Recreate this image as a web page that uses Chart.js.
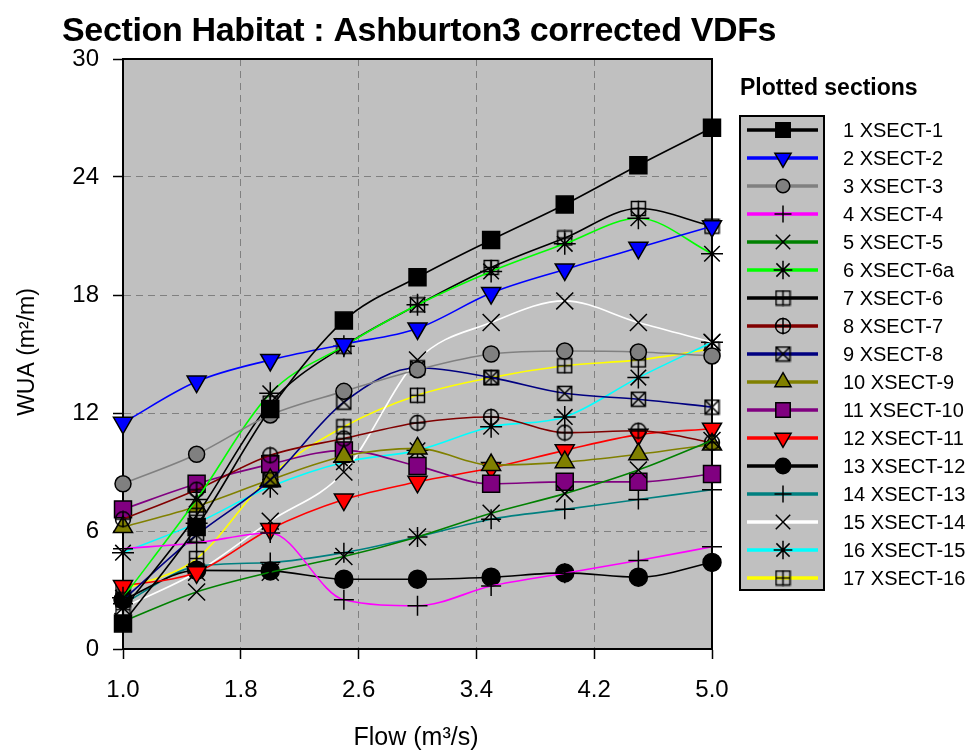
<!DOCTYPE html>
<html>
<head>
<meta charset="utf-8">
<script src="https://cdn.jsdelivr.net/npm/chart.js@4.4.1/dist/chart.umd.min.js"></script>
<style>
  html, body { margin: 0; background: #fff; }
</style>
</head>
<body>
<canvas id="habitatChart" width="974" height="753"></canvas>
<script>
// flows (m3/s) and WUA per section
const flows = [1.0, 1.5, 2.0, 2.5, 3.0, 3.5, 4.0, 4.5, 5.0];
const flowTicks = [1.0, 1.8, 2.6, 3.4, 4.2, 5.0];
const wuaTicks = [0, 6, 12, 18, 24, 30];

const sectionNames = [
    '1 XSECT-1', '2 XSECT-2', '3 XSECT-3', '4 XSECT-4', '5 XSECT-5', '6 XSECT-6a',
    '7 XSECT-6', '8 XSECT-7', '9 XSECT-8', '10 XSECT-9', '11 XSECT-10', '12 XSECT-11',
    '13 XSECT-12', '14 XSECT-13', '15 XSECT-14', '16 XSECT-15', '17 XSECT-16'
];

const xsect1   = [1.3, 6.2, 12.2, 16.7, 18.9, 20.8, 22.6, 24.6, 26.5];
const xsect2   = [11.5, 13.6, 14.7, 15.5, 16.3, 18.1, 19.3, 20.4, 21.5];
const xsect3   = [8.4, 9.9, 11.9, 13.1, 14.2, 15.0, 15.15, 15.1, 14.9];
const xsect4   = [5.1, 5.4, 5.9, 2.5, 2.2, 3.2, 3.85, 4.5, 5.2];
const xsect5   = [1.4, 2.9, 3.9, 4.7, 5.7, 6.9, 7.9, 9.1, 10.6];
const xsect6a  = [2.6, 7.6, 13.0, 15.4, 17.5, 19.2, 20.6, 21.9, 20.1];
const xsect6   = [2.0, 6.8, 12.5, 15.4, 17.5, 19.4, 20.9, 22.4, 21.5];
const xsect7   = [6.6, 8.1, 9.85, 10.7, 11.5, 11.8, 11.0, 11.1, 10.5];
const xsect8   = [2.5, 5.8, 8.6, 12.55, 14.3, 13.8, 13.0, 12.7, 12.3];
const xsect9   = [6.2, 7.25, 8.6, 9.8, 10.2, 9.35, 9.5, 9.9, 10.4];
const xsect10  = [7.1, 8.4, 9.4, 10.1, 9.3, 8.4, 8.5, 8.5, 8.9];
const xsect11  = [3.2, 3.9, 6.1, 7.6, 8.5, 9.2, 10.1, 10.9, 11.2];
const xsect12  = [2.5, 4.0, 3.97, 3.55, 3.55, 3.65, 3.87, 3.65, 4.4];
const xsect13  = [2.3, 4.2, 4.4, 4.9, 5.7, 6.6, 7.1, 7.6, 8.1];
const xsect14  = [2.1, 3.9, 6.5, 9.0, 14.7, 16.6, 17.7, 16.6, 15.6];
const xsect15  = [4.9, 6.4, 8.25, 9.5, 10.1, 11.3, 11.8, 13.8, 15.6];
const xsect16  = [3.0, 4.6, 8.8, 11.3, 12.9, 13.8, 14.4, 14.7, 15.25];

const sectionValues = [xsect1, xsect2, xsect3, xsect4, xsect5, xsect6a, xsect6, xsect7, xsect8,
    xsect9, xsect10, xsect11, xsect12, xsect13, xsect14, xsect15, xsect16];

const FONT = '"Liberation Sans", Arial, sans-serif';

// open glyph markers that Chart.js has no built-in style for
function glyph(kind, size) {
    const c = document.createElement('canvas');
    c.width = size; c.height = size;
    const g = c.getContext('2d');
    const h = size / 2, r = h - 1.5;
    g.strokeStyle = '#000';
    g.lineWidth = 1.5;
    g.beginPath();
    if (kind === 'ring') {
        g.arc(h, h, r, 0, Math.PI * 2);
    } else {
        g.rect(h - r, h - r, 2 * r, 2 * r);
    }
    if (kind === 'boxCross') {
        g.moveTo(h - r, h - r); g.lineTo(h + r, h + r);
        g.moveTo(h + r, h - r); g.lineTo(h - r, h + r);
    } else {
        g.moveTo(h, 0.5); g.lineTo(h, size - 0.5);
        g.moveTo(h - r, h); g.lineTo(h + r, h);
    }
    g.stroke();
    return c;
}

const boxPlus = glyph('boxPlus', 17);
const boxCross = glyph('boxCross', 17);
const ringPlus = glyph('ring', 18);

const seriesStyles = [
    { line: '#000000', marker: 'rect', radius: 12, fill: '#000000' },
    { line: '#0000ff', marker: 'triangle', radius: 11, fill: '#0000ff', rotation: 180 },
    { line: '#808080', marker: 'circle', radius: 8, fill: '#808080' },
    { line: '#ff00ff', marker: 'cross', radius: 10 },
    { line: '#008000', marker: 'crossRot', radius: 12 },
    { line: '#00ff00', marker: 'star', radius: 11 },
    { line: '#000000', marker: boxPlus, radius: 9 },
    { line: '#800000', marker: ringPlus, radius: 9 },
    { line: '#000080', marker: boxCross, radius: 9 },
    { line: '#808000', marker: 'triangle', radius: 11, fill: '#808000' },
    { line: '#800080', marker: 'rect', radius: 12, fill: '#800080' },
    { line: '#ff0000', marker: 'triangle', radius: 11, fill: '#ff0000', rotation: 180 },
    { line: '#000000', marker: 'circle', radius: 9, fill: '#000000' },
    { line: '#008080', marker: 'cross', radius: 10 },
    { line: '#ffffff', marker: 'crossRot', radius: 12 },
    { line: '#00ffff', marker: 'star', radius: 11 },
    { line: '#ffff00', marker: boxPlus, radius: 9 }
];

const datasets = sectionValues.map((vals, i) => {
    const s = seriesStyles[i];
    return {
        label: sectionNames[i],
        data: flows.map((x, j) => ({ x: x, y: vals[j] })),
        borderColor: s.line,
        borderWidth: 1.6,
        cubicInterpolationMode: 'monotone',
        pointStyle: s.marker,
        pointRadius: s.radius,
        pointRotation: s.rotation || 0,
        pointBackgroundColor: s.fill || 'rgba(0,0,0,0)',
        pointBorderColor: '#000000',
        pointBorderWidth: 1.5,
        clip: false
    };
});

const plotDecor = {
    id: 'plotDecor',
    beforeDraw(chart) {
        const { ctx, chartArea: a } = chart;
        ctx.save();
        ctx.fillStyle = '#c0c0c0';
        ctx.fillRect(a.left, a.top, a.right - a.left, a.bottom - a.top);
        ctx.restore();
    },
    beforeDatasetsDraw(chart) {
        const { ctx, chartArea: a } = chart;
        ctx.save();
        ctx.strokeStyle = '#000';
        ctx.lineWidth = 2;
        ctx.beginPath();
        ctx.moveTo(a.left, a.top);
        ctx.lineTo(a.right, a.top);
        ctx.lineTo(a.right, a.bottom);
        ctx.stroke();
        ctx.restore();
    },
    afterDraw(chart) {
        const { ctx } = chart;
        ctx.save();
        ctx.fillStyle = '#000';

        // main title
        ctx.font = 'bold 34px ' + FONT;
        ctx.letterSpacing = '-0.35px';
        ctx.textBaseline = 'alphabetic';
        ctx.textAlign = 'left';
        ctx.fillText('Section Habitat : Ashburton3 corrected VDFs', 62, 41);
        ctx.letterSpacing = '0px';

        // axis titles
        ctx.textAlign = 'center';
        ctx.textBaseline = 'middle';
        ctx.font = '25px ' + FONT;
        ctx.fillText('Flow (m\u00b3/s)', 416, 738);
        ctx.font = '23px ' + FONT;
        ctx.save();
        ctx.translate(28, 352);
        ctx.rotate(-Math.PI / 2);
        ctx.fillText('WUA (m\u00b2/m)', 0, 0);
        ctx.restore();

        // legend
        ctx.textAlign = 'left';
        ctx.font = 'bold 23px ' + FONT;
        ctx.fillText('Plotted sections', 740, 89);
        ctx.fillStyle = '#c0c0c0';
        ctx.fillRect(740, 116, 84, 474);
        ctx.strokeStyle = '#000';
        ctx.lineWidth = 2;
        ctx.strokeRect(740, 116, 84, 474);
        ctx.font = '20px ' + FONT;
        chart.data.datasets.forEach((ds, i) => {
            const y = 130 + i * 28;
            ctx.strokeStyle = ds.borderColor;
            ctx.lineWidth = 3.5;
            ctx.beginPath();
            ctx.moveTo(747, y);
            ctx.lineTo(818, y);
            ctx.stroke();
            ctx.fillStyle = ds.pointBackgroundColor;
            ctx.strokeStyle = '#000';
            ctx.lineWidth = 1.5;
            Chart.helpers.drawPoint(ctx, {
                pointStyle: ds.pointStyle,
                rotation: ds.pointRotation,
                radius: ds.pointRadius * 0.85,
                borderWidth: 1.5
            }, 783, y);
            ctx.fillStyle = '#000';
            ctx.fillText(ds.label, 843, y + 1);
        });
        ctx.restore();
    }
};

new Chart(document.getElementById('habitatChart'), {
    type: 'line',
    data: { datasets: datasets },
    options: {
        responsive: false,
        animation: false,
        devicePixelRatio: 1,
        layout: { padding: { left: 0, top: 59, right: 262, bottom: 0 } },
        plugins: {
            legend: { display: false },
            title: { display: false },
            tooltip: { enabled: false }
        },
        scales: {
            x: {
                type: 'linear',
                min: 1.0,
                max: 5.0,
                afterBuildTicks: scale => { scale.ticks = flowTicks.map(v => ({ value: v })); },
                afterFit: scale => { scale.height = 104; },
                ticks: {
                    color: '#000',
                    font: { family: FONT, size: 24 },
                    padding: 17,
                    maxRotation: 0,
                    callback: v => Number(v).toFixed(1)
                },
                grid: { color: '#808080', tickColor: '#000', tickLength: 10, tickWidth: 1.5 },
                border: { color: '#000', width: 2, dash: [7, 5] }
            },
            y: {
                type: 'linear',
                min: 0,
                max: 30,
                afterBuildTicks: scale => { scale.ticks = wuaTicks.map(v => ({ value: v })); },
                afterFit: scale => { scale.width = 123; },
                ticks: {
                    color: '#000',
                    font: { family: FONT, size: 24 },
                    padding: 14
                },
                grid: { color: '#808080', tickColor: '#000', tickLength: 10, tickWidth: 1.5 },
                border: { color: '#000', width: 2, dash: [7, 5] }
            }
        }
    },
    plugins: [plotDecor]
});
</script>
</body>
</html>
